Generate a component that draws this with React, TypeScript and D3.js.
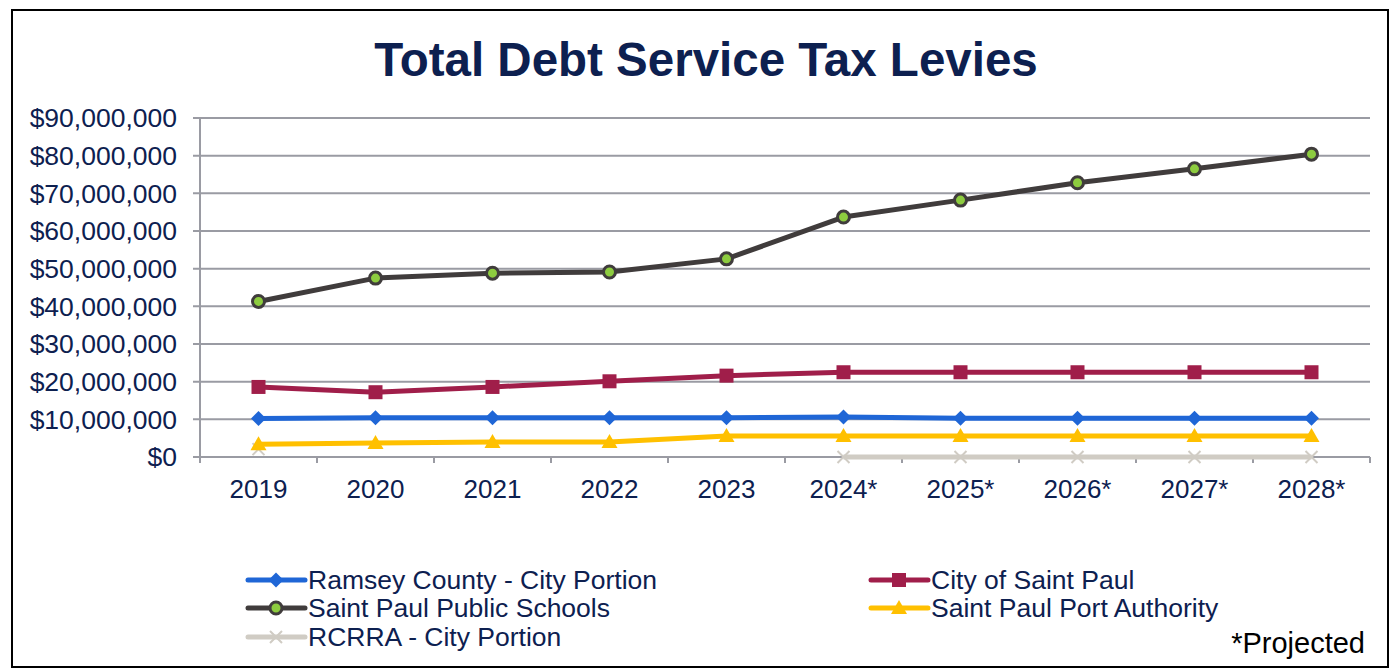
import React from "react";
import * as d3 from "d3";

const categories = ["2019", "2020", "2021", "2022", "2023", "2024*", "2025*", "2026*", "2027*", "2028*"];
const ramsey = [10.2, 10.4, 10.4, 10.4, 10.4, 10.6, 10.3, 10.3, 10.3, 10.3].map((v) => v * 1e6);
const citySP = [18.6, 17.2, 18.6, 20.1, 21.6, 22.5, 22.5, 22.5, 22.5, 22.5].map((v) => v * 1e6);
const schools = [41.3, 47.5, 48.8, 49.1, 52.6, 63.7, 68.2, 72.8, 76.5, 80.4].map((v) => v * 1e6);
const port = [3.4, 3.7, 4.0, 4.0, 5.6, 5.6, 5.6, 5.6, 5.6, 5.6].map((v) => v * 1e6);
const rcrra: (number | null)[] = [2.1e6, null, null, null, null, 0, 0, 0, 0, 0];
const yTicks = [0, 10e6, 20e6, 30e6, 40e6, 50e6, 60e6, 70e6, 80e6, 90e6];

const series = [
  { name: "Ramsey County - City Portion", values: ramsey as (number | null)[], color: "#1f66d6", marker: "diamond" },
  { name: "City of Saint Paul", values: citySP as (number | null)[], color: "#a01e4a", marker: "square" },
  { name: "Saint Paul Public Schools", values: schools as (number | null)[], color: "#403c3c", marker: "circle" },
  { name: "Saint Paul Port Authority", values: port as (number | null)[], color: "#ffc000", marker: "triangle" },
  { name: "RCRRA - City Portion", values: rcrra, color: "#d0ccc4", marker: "x" },
];
const drawOrder = [4, 3, 0, 1, 2];

const W = 1393, H = 671;
const M = { left: 200, right: 1370, top: 118, bottom: 457 };
const FONT = "'Liberation Sans', Arial, sans-serif";
const NAVY = "#0d2050";

function Marker({ type, x, y, color }: { type: string; x: number; y: number; color: string }) {
  if (type === "diamond") {
    const s = 7.5;
    return <path d={`M${x},${y - s}L${x + s},${y}L${x},${y + s}L${x - s},${y}Z`} fill={color} />;
  }
  if (type === "square") {
    return <rect x={x - 7} y={y - 7} width={14} height={14} fill={color} />;
  }
  if (type === "circle") {
    return <circle cx={x} cy={y} r={6} fill="#8dcc3f" stroke={color} strokeWidth={3} />;
  }
  if (type === "triangle") {
    return <path d={`M${x},${y - 8}L${x + 8},${y + 6}L${x - 8},${y + 6}Z`} fill={color} />;
  }
  const s = 6;
  return (
    <path d={`M${x - s},${y - s}L${x + s},${y + s}M${x - s},${y + s}L${x + s},${y - s}`} stroke={color} strokeWidth={2} />
  );
}

export default function App() {
  const x = d3.scaleBand<string>().domain(categories).range([M.left, M.right]);
  const y = d3.scaleLinear().domain([0, 90e6]).range([M.bottom, M.top]);
  const cx = (c: string) => (x(c) as number) + x.bandwidth() / 2;
  const fmt = (v: number) => "$" + d3.format(",")(v);
  const line = d3
    .line<number | null>()
    .defined((d) => d !== null)
    .x((_, i) => cx(categories[i]))
    .y((d) => y(d as number));

  const legendItems = [
    { s: series[0], lx: 248, ly: 580 },
    { s: series[2], lx: 248, ly: 608 },
    { s: series[4], lx: 248, ly: 637 },
    { s: series[1], lx: 871, ly: 580 },
    { s: series[3], lx: 871, ly: 608 },
  ];

  return (
    <svg width={W} height={H} style={{ position: "absolute", left: 0, top: 0 }} fontFamily={FONT}>
      <rect x={0} y={0} width={W} height={H} fill="#fff" />
      <rect x={12} y={10} width={1376} height={657} fill="#fff" stroke="#000" strokeWidth={2} />
      <text x={706} y={76} textAnchor="middle" fontSize={47.5} fontWeight="bold" fill={NAVY}>
        Total Debt Service Tax Levies
      </text>
      {yTicks.map((t) => (
        <g key={t}>
          <line x1={193} x2={M.right} y1={y(t)} y2={y(t)} stroke="#9a9ba3" strokeWidth={2} />
          <text x={177} y={y(t)} dy="0.35em" textAnchor="end" fontSize={26.5} fill={NAVY}>
            {fmt(t)}
          </text>
        </g>
      ))}
      <line x1={M.left} x2={M.left} y1={M.top} y2={M.bottom + 6} stroke="#9a9ba3" strokeWidth={2} />
      {categories.map((c) => (
        <g key={c}>
          <line x1={x(c) as number} x2={x(c) as number} y1={M.bottom} y2={M.bottom + 6} stroke="#9a9ba3" strokeWidth={2} />
          <text x={cx(c)} y={498} textAnchor="middle" fontSize={26} fill={NAVY}>
            {c}
          </text>
        </g>
      ))}
      <line x1={M.right} x2={M.right} y1={M.bottom} y2={M.bottom + 6} stroke="#9a9ba3" strokeWidth={2} />
      {drawOrder.map((k) => {
        const s = series[k];
        return (
          <g key={s.name}>
            <path d={line(s.values) || ""} fill="none" stroke={s.color} strokeWidth={5} strokeLinejoin="round" />
            {s.values.map((v, i) =>
              v === null ? null : <Marker key={i} type={s.marker} x={cx(categories[i])} y={y(v)} color={s.color} />
            )}
          </g>
        );
      })}
      {legendItems.map(({ s, lx, ly }) => (
        <g key={s.name}>
          <line x1={lx} x2={lx + 57} y1={ly} y2={ly} stroke={s.color} strokeWidth={5} strokeLinecap="round" />
          <Marker type={s.marker} x={lx + 28} y={ly} color={s.color} />
          <text x={lx + 60} y={ly} dy="0.35em" fontSize={26.5} fill={NAVY}>
            {s.name}
          </text>
        </g>
      ))}
      <text x={1365} y={643} dy="0.35em" textAnchor="end" fontSize={29} fill="#000">
        *Projected
      </text>
    </svg>
  );
}
